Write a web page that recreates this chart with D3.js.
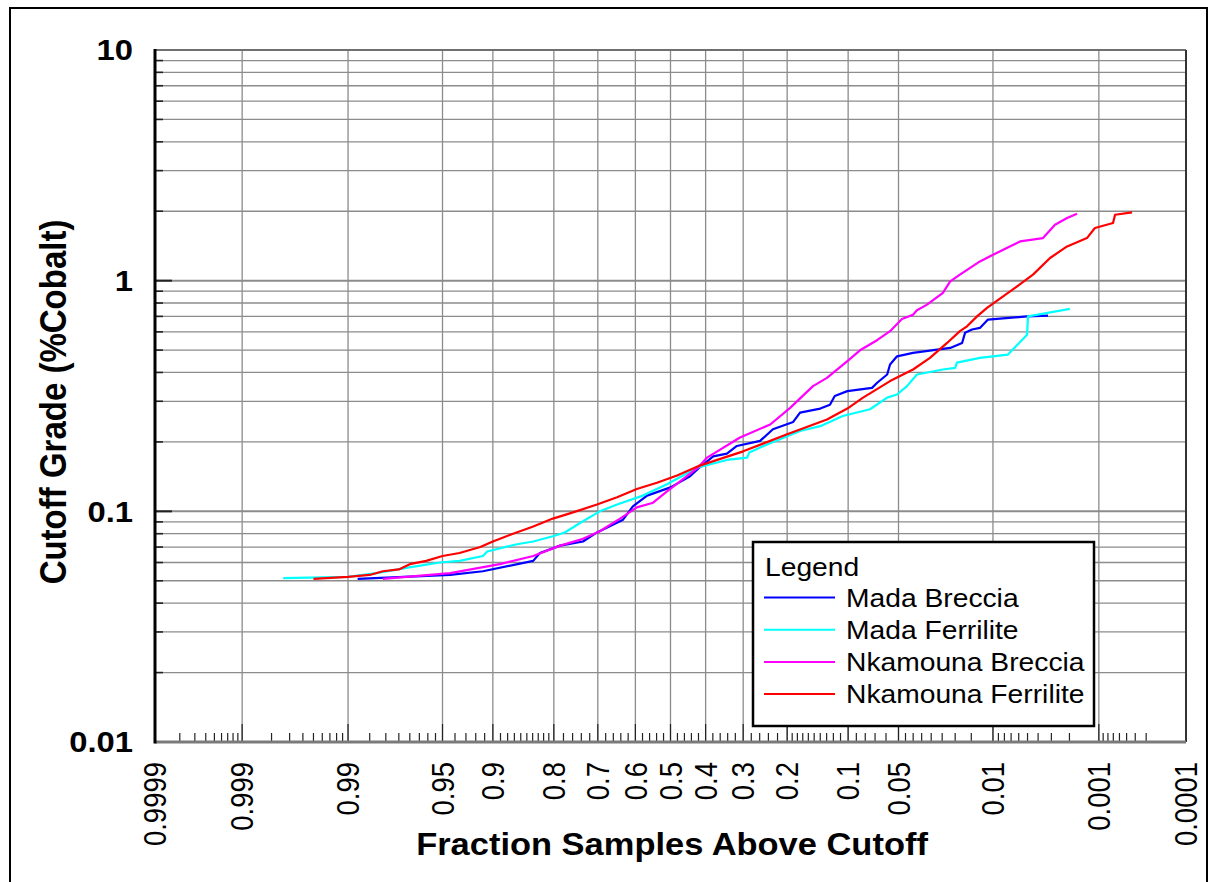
<!DOCTYPE html>
<html>
<head>
<meta charset="utf-8">
<script src="https://cdn.jsdelivr.net/npm/d3@7"></script>
<style>
  body { margin: 0; background: #fff; }
  text { font-family: "Liberation Sans", Arial, sans-serif; }
</style>
</head>
<body>
<div id="chart-area"></div>
<script>
// Set up size
width = 1216;
height = 882

// Series: [fraction samples above cutoff, cutoff grade %Co]
let madaBreccia = [[0.988,0.051],[0.944,0.053],[0.912,0.055],[0.839,0.061],[0.827,0.066],[0.787,0.071],[0.736,0.074],[0.702,0.081],[0.634,0.092],[0.607,0.105],[0.567,0.117],[0.50,0.127],[0.444,0.142],[0.421,0.153],[0.379,0.173],[0.342,0.178],[0.316,0.192],[0.259,0.202],[0.230,0.227],[0.188,0.244],[0.175,0.268],[0.140,0.279],[0.125,0.290],[0.118,0.316],[0.101,0.332],[0.073,0.343],[0.068,0.361],[0.059,0.392],[0.0566,0.433],[0.0511,0.470],[0.0401,0.486],[0.0218,0.511],[0.0177,0.537],[0.0168,0.594],[0.0148,0.614],[0.0128,0.624],[0.0110,0.678],[0.00505,0.700],[0.00323,0.705]]

let madaFerrilite = [[0.9974,0.0513],[0.990,0.052],[0.983,0.054],[0.971,0.057],[0.952,0.060],[0.936,0.061],[0.912,0.064],[0.907,0.067],[0.866,0.072],[0.839,0.074],[0.802,0.078],[0.777,0.081],[0.743,0.089],[0.695,0.100],[0.650,0.107],[0.579,0.117],[0.51,0.131],[0.464,0.143],[0.421,0.155],[0.342,0.167],[0.290,0.171],[0.285,0.180],[0.243,0.195],[0.175,0.223],[0.140,0.234],[0.107,0.259],[0.075,0.277],[0.059,0.311],[0.0511,0.321],[0.044,0.349],[0.0377,0.392],[0.0247,0.412],[0.0200,0.419],[0.0194,0.441],[0.0128,0.463],[0.00745,0.478],[0.00505,0.583],[0.00495,0.700],[0.00198,0.754]]

let nkamounaBreccia = [[0.981,0.051],[0.944,0.054],[0.891,0.059],[0.839,0.064],[0.787,0.071],[0.736,0.076],[0.695,0.082],[0.642,0.093],[0.596,0.104],[0.55,0.109],[0.51,0.122],[0.464,0.138],[0.421,0.155],[0.396,0.171],[0.308,0.209],[0.236,0.238],[0.194,0.281],[0.152,0.349],[0.1295,0.379],[0.101,0.448],[0.0858,0.499],[0.0681,0.552],[0.0566,0.604],[0.0475,0.682],[0.0401,0.712],[0.0377,0.744],[0.0321,0.787],[0.0247,0.885],[0.0218,0.993],[0.0184,1.062],[0.0128,1.212],[0.00998,1.296],[0.00584,1.479],[0.00360,1.530],[0.00277,1.747],[0.00211,1.868],[0.00168,1.950]]

let nkamounaFerrilite = [[0.995,0.051],[0.990,0.052],[0.985,0.053],[0.981,0.055],[0.975,0.056],[0.970,0.059],[0.961,0.061],[0.950,0.064],[0.936,0.066],[0.915,0.070],[0.900,0.074],[0.872,0.080],[0.839,0.086],[0.802,0.093],[0.766,0.098],[0.702,0.107],[0.650,0.115],[0.596,0.125],[0.539,0.133],[0.481,0.143],[0.421,0.157],[0.300,0.182],[0.200,0.216],[0.1295,0.250],[0.101,0.279],[0.0824,0.311],[0.0566,0.367],[0.0401,0.412],[0.0306,0.463],[0.0230,0.537],[0.0184,0.604],[0.0162,0.634],[0.0135,0.700],[0.0112,0.762],[0.0062,0.945],[0.00446,1.062],[0.00309,1.254],[0.00211,1.407],[0.00133,1.530],[0.00110,1.691],[0.000705,1.778],[0.00067,1.931],[0.000434,1.976]]

let seriesNames = ["Mada Breccia", "Mada Ferrilite", "Nkamouna Breccia", "Nkamouna Ferrilite"]
let seriesColors = ["#0000ff", "#00ffff", "#ff00ff", "#ff0000"]
let seriesData = [madaBreccia, madaFerrilite, nkamounaBreccia, nkamounaFerrilite]

// Tick labels
let xLabels = ["0.9999","0.999","0.99","0.95","0.9","0.8","0.7","0.6","0.5","0.4","0.3","0.2","0.1","0.05","0.01","0.001","0.0001"]
let yLabels = ["10","1","0.1","0.01"]

// inverse normal cdf (Acklam)
function probit(p) {
  const a = [-3.969683028665376e+01, 2.209460984245205e+02, -2.759285104469687e+02, 1.383577518672690e+02, -3.066479806614716e+01, 2.506628277459239e+00]
  const b = [-5.447609879822406e+01, 1.615858368580409e+02, -1.556989798598866e+02, 6.680131188771972e+01, -1.328068155288572e+01]
  const c = [-7.784894002430293e-03, -3.223964580411365e-01, -2.400758277161838e+00, -2.549732539343734e+00, 4.374664141464968e+00, 2.938163982698783e+00]
  const d = [7.784695709041462e-03, 3.224671290700398e-01, 2.445134137142996e+00, 3.754408661907416e+00]
  let q, r
  if (p < 0.02425) {
    q = Math.sqrt(-2 * Math.log(p))
    return (((((c[0]*q+c[1])*q+c[2])*q+c[3])*q+c[4])*q+c[5]) / ((((d[0]*q+d[1])*q+d[2])*q+d[3])*q+1)
  }
  if (p <= 1 - 0.02425) {
    q = p - 0.5; r = q * q
    return (((((a[0]*r+a[1])*r+a[2])*r+a[3])*r+a[4])*r+a[5])*q / (((((b[0]*r+b[1])*r+b[2])*r+b[3])*r+b[4])*r+1)
  }
  q = Math.sqrt(-2 * Math.log(1 - p))
  return -(((((c[0]*q+c[1])*q+c[2])*q+c[3])*q+c[4])*q+c[5]) / ((((d[0]*q+d[1])*q+d[2])*q+d[3])*q+1)
}

let plotLeft = 155, plotRight = 1186, plotTop = 50, plotBottom = 742
let sx = 1.13 // text is a bit wide in the original

// probability scale (x) and log scale (y)
let zScale = d3.scaleLinear().domain([-probit(0.9999), -probit(0.0001)]).range([plotLeft, plotRight])
let xScale = p => zScale(-probit(p))
let yScale = d3.scaleLog().domain([0.01, 10]).range([plotBottom, plotTop])

let xMajor = xLabels.map(Number)
let xMinor = [].concat(
  d3.range(2, 10).map(k => 1 - k * 1e-4),
  d3.range(1, 9).map(k => 0.99 + k * 0.001),
  d3.range(1, 8).map(k => 0.95 + k * 0.005),
  d3.range(1, 5).map(k => 0.9 + k * 0.01),
  d3.range(1, 10).map(k => 0.8 + k * 0.01),
  d3.range(11, 40).filter(k => k % 5 != 0).map(k => k * 0.02),
  d3.range(1, 10).map(k => 0.1 + k * 0.01),
  d3.range(1, 5).map(k => 0.05 + k * 0.01),
  d3.range(1, 8).map(k => 0.01 + k * 0.005),
  d3.range(2, 10).map(k => k * 0.001),
  d3.range(3, 10).map(k => k * 0.0001)
)
let yMajor = [10, 1, 0.1, 0.01]
let yMinor = [0.01, 0.1, 1].flatMap(dec => d3.range(2, 10).map(k => k * dec))

// Create SVG drawing area
svg = d3.select("#chart-area")
  .append("svg")
  .attr("width", width)
  .attr("height", height)

svg.append("rect")
  .attr("x", 10).attr("y", 8)
  .attr("width", 1197).attr("height", 900)
  .attr("fill", "white").attr("stroke", "black").attr("stroke-width", 2)

// grid lines
let grid = svg.append("g").attr("stroke", "#8c8c8c")
grid.selectAll(".vg").data(xMajor.slice(1, -1)).enter().append("line")
  .attr("x1", d => xScale(d)).attr("x2", d => xScale(d))
  .attr("y1", plotTop).attr("y2", plotBottom)
  .attr("stroke-width", 1.3)
grid.selectAll(".hg").data(yMinor).enter().append("line")
  .attr("x1", plotLeft).attr("x2", plotRight)
  .attr("y1", d => yScale(d)).attr("y2", d => yScale(d))
  .attr("stroke-width", 1.3)
grid.selectAll(".hm").data([1, 0.1]).enter().append("line")
  .attr("x1", plotLeft).attr("x2", plotRight)
  .attr("y1", d => yScale(d)).attr("y2", d => yScale(d))
  .attr("stroke-width", 2)

// tick marks
let ticks = svg.append("g").attr("stroke", "#222").attr("stroke-width", 1.2)
ticks.selectAll(".xt").data(xMajor).enter().append("line")
  .attr("x1", d => xScale(d)).attr("x2", d => xScale(d))
  .attr("y1", plotBottom - 18).attr("y2", plotBottom)
ticks.selectAll(".xm").data(xMinor).enter().append("line")
  .attr("x1", d => xScale(d)).attr("x2", d => xScale(d))
  .attr("y1", plotBottom - 9).attr("y2", plotBottom)
ticks.selectAll(".yt").data(yMajor).enter().append("line")
  .attr("x1", plotLeft).attr("x2", plotLeft + 17)
  .attr("y1", d => yScale(d)).attr("y2", d => yScale(d))
  .attr("stroke-width", 2)
ticks.selectAll(".ym").data(yMinor).enter().append("line")
  .attr("x1", plotLeft).attr("x2", plotLeft + 8)
  .attr("y1", d => yScale(d)).attr("y2", d => yScale(d))
  .attr("stroke-width", 1.6)

// plot frame
svg.append("line").attr("x1", plotLeft).attr("x2", plotRight).attr("y1", plotTop).attr("y2", plotTop)
  .attr("stroke", "#707070").attr("stroke-width", 2)
svg.append("line").attr("x1", plotRight).attr("x2", plotRight).attr("y1", plotTop).attr("y2", plotBottom)
  .attr("stroke", "#333").attr("stroke-width", 2)
svg.append("line").attr("x1", plotLeft).attr("x2", plotRight).attr("y1", plotBottom).attr("y2", plotBottom)
  .attr("stroke", "#7a7a7a").attr("stroke-width", 3)
svg.append("line").attr("x1", plotLeft).attr("x2", plotLeft).attr("y1", plotTop - 1).attr("y2", plotBottom + 1.5)
  .attr("stroke", "black").attr("stroke-width", 3)

// series lines
let line = d3.line().x(d => xScale(d[0])).y(d => yScale(d[1]))
svg.selectAll(".series").data(seriesData).enter().append("path")
  .attr("d", line)
  .attr("fill", "none")
  .attr("stroke", (d, i) => seriesColors[i])
  .attr("stroke-width", 2.2)
  .attr("stroke-linejoin", "round")

// x tick labels
svg.selectAll(".xl").data(xLabels).enter().append("text")
  .attr("transform", d => "translate(" + xScale(+d) + ",762) scale(" + sx + ",1) rotate(-90)")
  .attr("text-anchor", "end")
  .attr("dy", "0.36em")
  .attr("font-size", 27.5)
  .text(d => d)

// y tick labels
svg.selectAll(".yl").data(yLabels).enter().append("text")
  .attr("transform", d => "translate(133," + yScale(+d) + ") scale(" + sx + ",1)")
  .attr("text-anchor", "end")
  .attr("dy", "0.36em")
  .attr("font-size", 29)
  .attr("font-weight", "bold")
  .text(d => d)

// axis titles
svg.append("text")
  .attr("transform", "translate(672,855) scale(" + sx + ",1)")
  .attr("text-anchor", "middle")
  .attr("font-size", 30.5)
  .attr("font-weight", "bold")
  .text("Fraction Samples Above Cutoff")

svg.append("text")
  .attr("transform", "translate(66,402) scale(" + sx + ",1) rotate(-90)")
  .attr("text-anchor", "middle")
  .attr("font-size", 33)
  .attr("font-weight", "bold")
  .text("Cutoff Grade (%Cobalt)")

// legend
let legend = svg.append("g")
legend.append("rect")
  .attr("x", 753).attr("y", 542).attr("width", 341).attr("height", 184)
  .attr("fill", "white").attr("stroke", "black").attr("stroke-width", 2.5)
legend.append("text")
  .attr("transform", "translate(765,576) scale(" + sx + ",1)")
  .attr("font-size", 25)
  .text("Legend")
seriesNames.forEach((name, i) => {
  let ly = 597.5 + i * 32.2
  legend.append("line")
    .attr("x1", 764).attr("x2", 835).attr("y1", ly).attr("y2", ly)
    .attr("stroke", seriesColors[i]).attr("stroke-width", 2)
  legend.append("text")
    .attr("transform", "translate(846," + (ly + 9) + ") scale(" + sx + ",1)")
    .attr("font-size", 25)
    .text(name)
})
</script>
</body>
</html>
